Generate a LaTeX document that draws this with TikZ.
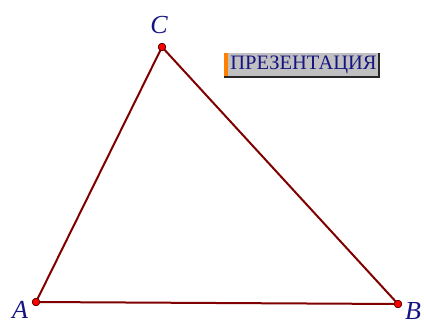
\documentclass[tikz,border=0pt]{standalone}
\usepackage{fontspec}
\setmainfont{Liberation Serif}
\usetikzlibrary{positioning, calc}
\definecolor{ribro}{RGB}{128,0,0}
\definecolor{tochka}{RGB}{255,0,0}
\definecolor{bukva}{RGB}{20,20,130}
\definecolor{knopka}{RGB}{192,192,192}
\definecolor{polosa}{RGB}{255,128,0}

\begin{document}
\begin{tikzpicture}[x=1pt, y=-1pt,
        tochkaN/.style={circle, draw=black!70!red, fill=tochka, line width=0.6pt, minimum size=7.5pt, inner sep=0pt},
        imya/.style={text=bukva, font=\fontsize{26}{28}\selectfont\itshape, inner sep=0pt},
        knop/.style={fill=knopka, text=bukva, font=\fontsize{20.5}{22}\selectfont, inner xsep=2pt, inner ysep=1pt, minimum height=24pt},
        storona/.style={ribro, line width=2pt}]

        \useasboundingbox (0,0) rectangle (424,325);

        \node[tochkaN] (A) at (36,302) {};
        \node[tochkaN] (B) at (398,304) {};
        \node[tochkaN] (C) at (162,47) {};

        \draw[storona] (A.center) -- (B.center) -- (C.center) -- cycle;
        \node[tochkaN] at (A) {};
        \node[tochkaN] at (B) {};
        \node[tochkaN] at (C) {};

        \node[imya] (nA) at (20,310) {A};
        \node[imya] (nB) at (413,311) {B};
        \node[imya] (nC) at (159,25) {C};

        % knopka
        \node[knop] (pres) at (303.5,65) {ПРЕЗЕНТАЦИЯ};
        \fill[polosa] ($(pres.south west)+(-4.5,0)$) rectangle (pres.north west);
        \draw[black!85, line width=1.5pt] (pres.north east) -- (pres.south east) -- ($(pres.south west)+(-4.5,0)$);
    \end{tikzpicture}
\end{document}
